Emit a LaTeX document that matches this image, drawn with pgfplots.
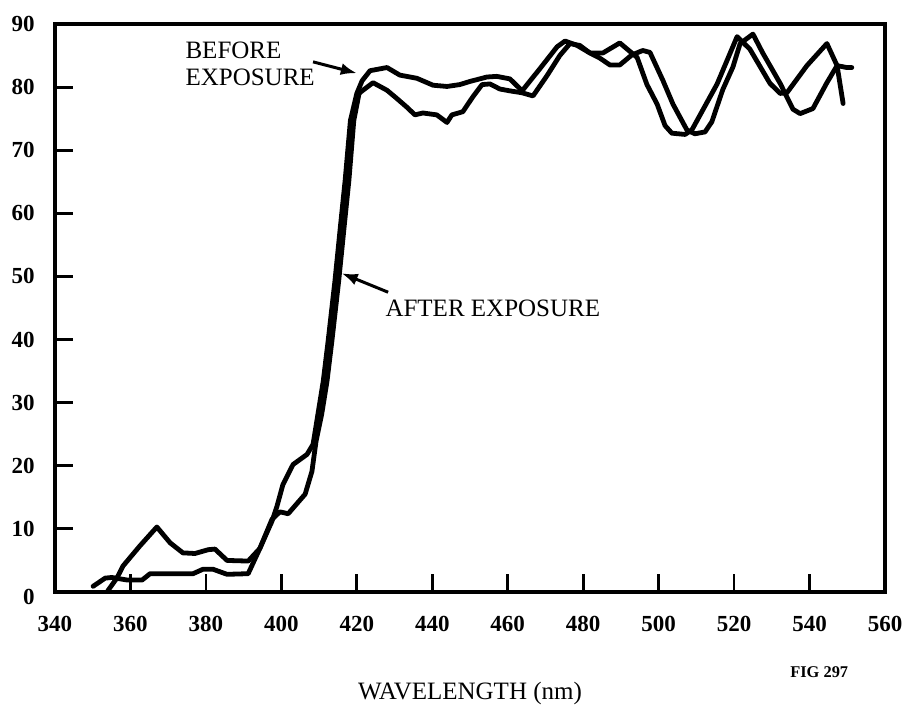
\documentclass[border=0pt]{standalone}
\usepackage{fontspec}
\setmainfont{Liberation Serif}
\usepackage{pgfplots}
\pgfplotsset{compat=1.18}
\usetikzlibrary{arrows.meta}

\begin{document}
\begin{tikzpicture}
\path[use as bounding box] (-27.5pt,-59pt) rectangle (425pt,296pt);
\begin{axis}[
  scale only axis, width=415pt, height=284pt,
  xmin=340, xmax=560, ymin=0, ymax=90,
  xtick={340,360,...,560},
  ytick={10,20,...,90},
  extra y ticks={0},
  extra y tick style={yticklabel style={yshift=-2.5pt}},
  tick pos=left,
  tick align=inside,
  major tick length=9pt,
  major tick style={line width=1.4pt, black},
  axis line style={line width=1.6pt},
  ticklabel style={font=\fontsize{11.5}{12}\selectfont\bfseries},
  xticklabel style={anchor=base, yshift=-20pt, inner sep=0pt},
  yticklabel style={anchor=east, xshift=-10pt, inner sep=0pt},
  /pgf/number format/assume math mode=true,
  /pgf/number format/1000 sep={},
  xlabel={WAVELENGTH (nm)},
  xlabel style={at={(axis description cs:0.5,0)}, anchor=base, yshift=-54pt, font=\fontsize{12.5}{14}\selectfont},
  clip=false,
]
% BEFORE EXPOSURE
\addplot[line width=2.4pt, black, line join=round, line cap=round] table {
354.0 0.2
356.4 2.2
358.0 4.1
362.5 7.3
367.0 10.3
370.5 7.8
373.9 6.2
377.1 6.1
380.6 6.7
382.4 6.8
385.6 5.0
391.2 4.9
394.3 6.9
397.5 11.2
398.8 13.5
400.4 17.0
403.1 20.2
406.8 21.8
408.4 23.4
409.7 28.2
411.1 33.4
412.4 39.8
414.2 49.3
415.8 58.8
416.9 65.2
418.3 74.7
420.0 79.0
421.4 81.0
423.5 82.6
428.0 83.1
431.4 81.9
435.9 81.4
440.2 80.3
443.9 80.1
447.3 80.4
450.0 80.9
454.5 81.6
457.1 81.7
460.6 81.3
463.8 79.4
468.5 82.9
473.1 86.4
475.2 87.3
478.4 86.6
481.8 85.4
484.4 84.6
487.1 83.5
489.7 83.5
492.9 85.1
495.8 85.8
497.7 85.5
501.1 81.1
503.8 77.3
507.5 73.2
509.6 72.6
512.3 72.9
514.1 74.5
517.0 79.6
519.7 83.2
521.6 86.9
525.0 88.4
527.6 85.4
532.2 80.6
535.6 76.5
537.5 75.8
540.9 76.6
544.6 80.7
547.3 83.4
549.9 83.1
551.2 83.1
};
% AFTER EXPOSURE
\addplot[line width=2.4pt, black, line join=round, line cap=round] table {
350.1 0.9
353.3 2.2
355.1 2.3
359.1 1.9
363.1 1.9
365.2 2.9
376.6 2.9
379.2 3.6
381.9 3.6
385.6 2.8
391.2 2.9
394.3 6.9
397.5 11.5
399.6 12.7
401.8 12.4
406.3 15.5
408.1 19.1
409.2 23.9
410.7 28.2
412.1 33.4
413.4 39.8
415.2 49.3
416.8 58.8
417.9 65.2
419.2 74.7
420.6 79.0
421.4 79.4
424.3 80.7
428.0 79.5
430.6 78.2
433.3 76.8
435.4 75.6
437.5 75.9
441.2 75.6
443.9 74.4
445.2 75.6
448.1 76.1
450.8 78.5
453.2 80.4
455.3 80.5
457.9 79.7
460.6 79.4
463.8 79.1
466.7 78.6
470.4 81.8
473.8 85.0
476.5 86.9
479.1 86.6
481.8 85.4
485.2 85.4
489.7 87.0
492.9 85.4
494.3 84.7
496.9 80.4
499.6 77.3
501.7 73.9
503.5 72.7
507.0 72.5
508.8 73.2
515.5 80.5
520.8 88.0
524.2 86.0
529.5 80.6
532.2 79.0
534.0 79.1
539.3 83.4
544.6 86.9
547.3 83.4
548.9 77.4
};
\node[anchor=base west, inner sep=0pt, font=\fontsize{12.5}{14}\selectfont] at (axis cs:374.5,84.6) {BEFORE};
\node[anchor=base west, inner sep=0pt, font=\fontsize{12.5}{14}\selectfont] at (axis cs:374.5,80.2) {EXPOSURE};
\draw[line width=1.5pt, -{Latex[length=8pt,width=6pt]}] (axis cs:408.4,84.0) -- (axis cs:420.0,82.2);
\node[anchor=base west, inner sep=0pt, font=\fontsize{12.5}{14}\selectfont] at (axis cs:427.5,43.6) {AFTER EXPOSURE};
\draw[line width=1.5pt, -{Latex[length=8pt,width=6pt]}] (axis cs:428.3,47.5) -- (axis cs:416.0,50.5);
\node[anchor=base west, inner sep=0pt, font=\fontsize{8.2}{9}\selectfont\bfseries] at (axis cs:534.8,-13.6) {FIG 297};
\end{axis}
\end{tikzpicture}
\end{document}
